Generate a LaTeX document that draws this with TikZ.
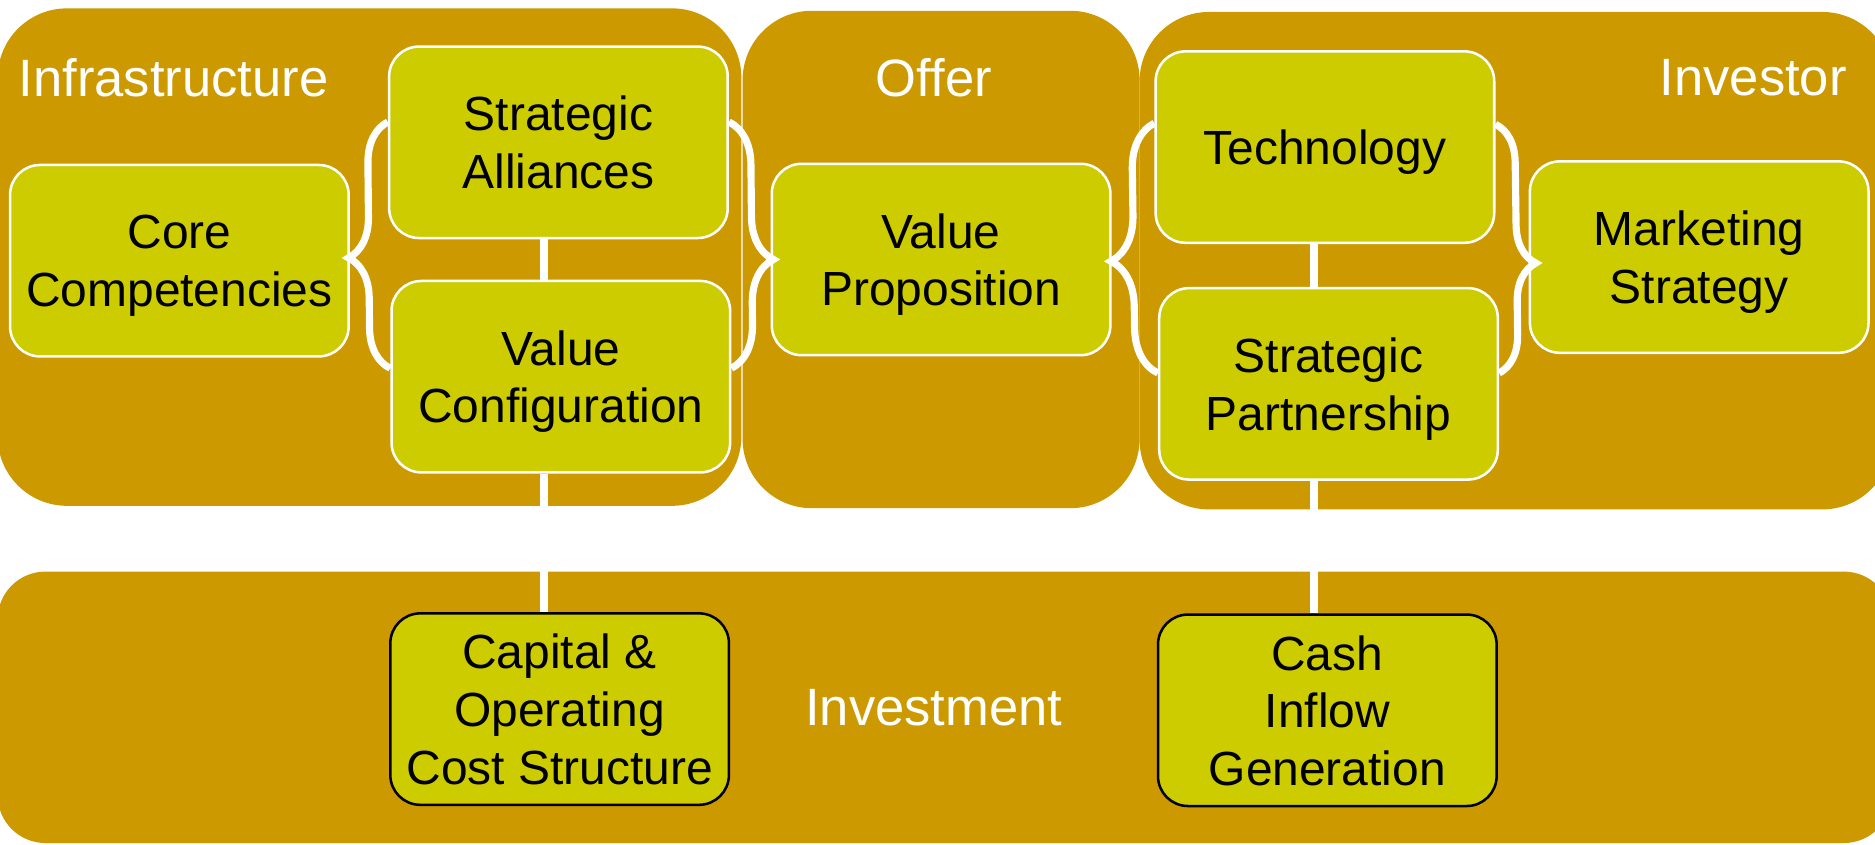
\documentclass[tikz,border=0pt]{standalone}
\usepackage{fontspec}
\setmainfont{Liberation Sans}
\usepackage{xcolor}
\usepackage{tikz}
\usetikzlibrary{decorations.pathreplacing}

\definecolor{panelgold}{RGB}{204,153,0}
\definecolor{boxolive}{RGB}{204,204,0}

\begin{document}
\begin{tikzpicture}[
  x=0.01cm, y=-0.01cm,
  panel/.style={fill=panelgold},
  title/.style={text=white, inner sep=0pt, font=\fontsize{12.5}{15}\selectfont},
  boxbase/.style={rectangle, rounded corners=0.25cm, line width=0.6pt, fill=boxolive, text depth=-1pt,
    minimum width=2.83cm, minimum height=1.6cm, align=center, font=\fontsize{11.4}{13.7}\selectfont},
  block/.style={boxbase, draw=white},
  cost/.style={boxbase, draw=black},
  link/.style={draw=white, line width=1.8pt},
  curlyleft/.style={draw=white, line width=1.7pt, decorate, decoration={brace, amplitude=#1, aspect=0.45}},
  curlyright/.style={draw=white, line width=1.7pt, decorate, decoration={brace, amplitude=#1, aspect=0.56}}
]
\useasboundingbox (0,0) rectangle (1568,706);

% panels
\fill[panel, rounded corners=0.58cm] (-2,7) rectangle (620,423);
\fill[panel, rounded corners=0.58cm] (621,9) rectangle (953,425);
\fill[panel, rounded corners=0.58cm] (953,10) rectangle (1582,426);
\fill[panel, rounded corners=0.4cm] (-2,478) rectangle (1582,705);

\node[title, anchor=west] (infralabel) at (15,65) {Infrastructure};
\node[title] (offerlabel) at (781,65) {Offer};
\node[title, anchor=east] (investorlabel) at (1545,65) {Investor};
\node[title] (investmentlabel) at (781,592) {Investment};

% boxes
\node[block] (core) at (150,218) {Core\\Competencies};
\node[block] (sa) at (467,119) {Strategic\\Alliances};
\node[block] (vc) at (469,315) {Value\\Configuration};
\node[block] (vp) at (787,217) {Value\\Proposition};
\node[block] (tech) at (1108,123) {Technology};
\node[block] (sp) at (1111,321) {Strategic\\Partnership};
\node[block] (ms) at (1421,215) {Marketing\\Strategy};
\node[cost] (cap) at (468,593) {Capital \&\\Operating\\Cost Structure};
\node[cost] (cash) at (1110,594) {Cash\\Inflow\\Generation};

% links
\draw[link] ([xshift=-1.2mm]vc.north -| sa.south) -- ([xshift=-1.2mm]sa.south);
\draw[link] ([xshift=-1.2mm]vc.south -| sa.south) -- ([xshift=-1.2mm]cap.north -| sa.south);
\draw[link] ([xshift=-0.9mm]tech.south) -- ([xshift=-0.9mm]sp.north -| tech.south);
\draw[link] ([xshift=-0.9mm]sp.south -| tech.south) -- ([xshift=-0.9mm]cash.north -| tech.south);

% braces
\draw[curlyleft=0.34cm] ([yshift=0.07cm]vc.west) -- ([yshift=0.17cm]sa.west);
\draw[curlyright=0.36cm] ([yshift=0.17cm]sa.east) -- ([yshift=0.07cm]vc.east);
\draw[curlyleft=0.38cm] ([yshift=0.09cm]sp.west) -- ([yshift=0.2cm]tech.west);
\draw[curlyright=0.32cm] ([yshift=0.19cm]tech.east) -- ([yshift=0.09cm]sp.east);
\end{tikzpicture}
\end{document}
